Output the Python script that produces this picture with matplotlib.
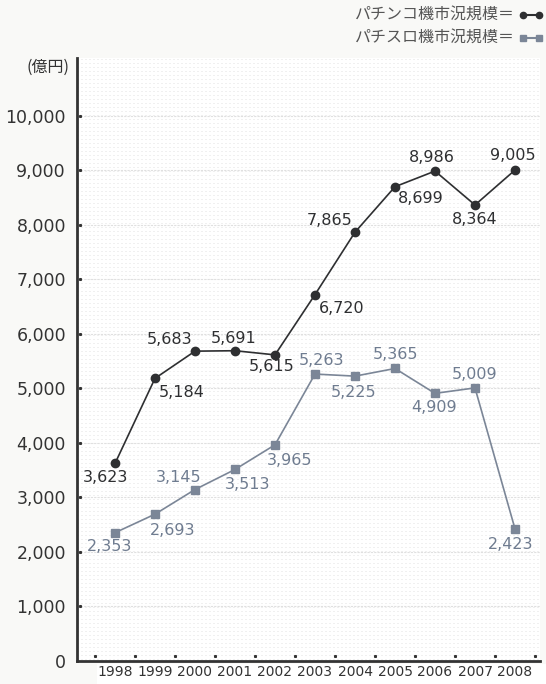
import numpy as np
import matplotlib.pyplot as plt
from matplotlib.collections import LineCollection
from matplotlib.patches import Rectangle
import matplotlib.transforms as mtransforms

plt.rcParams['font.family'] = ['DejaVu Sans', 'Noto Sans CJK JP']

years = ['1998', '1999', '2000', '2001', '2002', '2003', '2004', '2005', '2006', '2007', '2008']
pachinko = [3623, 5184, 5683, 5691, 5615, 6720, 7865, 8699, 8986, 8364, 9005]
pachislot = [2353, 2693, 3145, 3513, 3965, 5263, 5225, 5365, 4909, 5009, 2423]
yticks = list(range(0, 11000, 1000))

# label offsets in pixels (dx, dy)
off_pk = [(-10, -14), (27, -14), (-25, 12), (-1, 12), (-3, -12), (27, -14),
          (-25, 12), (26, -12), (-3, 14), (0, -15), (-2, 15)]
off_ps = [(-5, -14), (18, -16), (-16, 12), (13, -15), (15, -16), (6, 14),
          (-1, -16), (0, 14), (-1, -14), (0, 13), (-4, -16)]

c_pk = '#2e2f31'
c_ps = '#7b8697'
c_pslab = '#6f7c90'

fig = plt.figure(figsize=(5.46, 6.84), dpi=100)
fig.patch.set_facecolor('#f9f9f7')
# white strip under the year labels
fig.patches.append(Rectangle((97 / 546, 0), 1, 20 / 684, transform=fig.transFigure,
                             facecolor='white', edgecolor='none', zorder=-1))

ax = fig.add_axes([77 / 546, 1 - 661 / 684, (540 - 77) / 546, (661 - 58) / 684])
ax.set_facecolor('white')
ax.set_xlim(-0.95, 10.625)
ax.set_ylim(0, 11060)

# fine dotted background texture
ys = np.arange(0.004, 1.0, 4 / 603)
segs = [[(0, y), (1, y)] for y in ys]
ax.add_collection(LineCollection(segs, colors='#e3e3e3', linewidths=0.72,
                                 linestyles=[(0, (1, 3))], transform=ax.transAxes, zorder=0))
for v in yticks[1:]:
    ax.axhline(v, color='#e0e0e0', lw=0.8, ls=(0, (2, 1)), zorder=0.5)

x = np.arange(len(years))
ax.plot(x, pachinko, color=c_pk, lw=1.2, marker='o', ms=6, zorder=3)
ax.plot(x, pachislot, color=c_ps, lw=1.2, marker='s', ms=6, zorder=3)

for i in range(len(years)):
    ax.annotate(f'{pachinko[i]:,}', (x[i], pachinko[i]), xytext=off_pk[i],
                textcoords='offset pixels', ha='center', va='center',
                fontsize=11.5, color=c_pk, zorder=4)
    ax.annotate(f'{pachislot[i]:,}', (x[i], pachislot[i]), xytext=off_ps[i],
                textcoords='offset pixels', ha='center', va='center',
                fontsize=11.5, color=c_pslab, zorder=4)

# tick dots inside the axes
tr_y = mtransforms.blended_transform_factory(ax.transAxes, ax.transData)
ax.plot([0.006] * (len(yticks) - 1), yticks[1:], ls='none', marker='s', ms=1.2,
        color='#333333', transform=tr_y, clip_on=False)
tr_x = mtransforms.blended_transform_factory(ax.transData, ax.transAxes)
xdots = np.arange(len(years) + 1) - 0.5
ax.plot(xdots, [0.008] * len(xdots), ls='none', marker='s', ms=1.2,
        color='#333333', transform=tr_x, clip_on=False)

ax.set_yticks(yticks)
ax.set_yticklabels([f'{v:,}' for v in yticks], fontsize=12.5, color='#333333')
ax.set_xticks(x)
ax.set_xticklabels(years, fontsize=10, color='#333333')
ax.tick_params(length=0)
ax.tick_params(axis='y', pad=8)
ax.tick_params(axis='x', pad=3)

for s in ['top', 'right']:
    ax.spines[s].set_visible(False)
ax.spines['left'].set_linewidth(2)
ax.spines['bottom'].set_linewidth(2)
ax.spines['left'].set_color('#333333')
ax.spines['bottom'].set_color('#333333')

fig.text(70 / 546, 1 - 67 / 684, '(億円)', ha='right', va='center', fontsize=11.5,
         color='#333333', family=['Noto Sans CJK JP', 'DejaVu Sans'])

# legend drawn at the top right
cjk = ['Noto Sans CJK JP', 'DejaVu Sans']
fig.text(515 / 546, 1 - 14 / 684, 'パチンコ機市況規模＝', ha='right', va='center',
         fontsize=11.5, color='#555555', family=cjk)
fig.text(515 / 546, 1 - 37 / 684, 'パチスロ機市況規模＝', ha='right', va='center',
         fontsize=11.5, color='#555555', family=cjk)
lx = np.array([523, 539]) / 546
fig.add_artist(plt.Line2D(lx, [1 - 15 / 684] * 2, color=c_pk, lw=1.5, marker='o', ms=4.5,
                          transform=fig.transFigure))
fig.add_artist(plt.Line2D(lx, [1 - 38 / 684] * 2, color=c_ps, lw=1.5, marker='s', ms=4.5,
                          transform=fig.transFigure))

fig.savefig('out.png', dpi=100, facecolor=fig.get_facecolor())
